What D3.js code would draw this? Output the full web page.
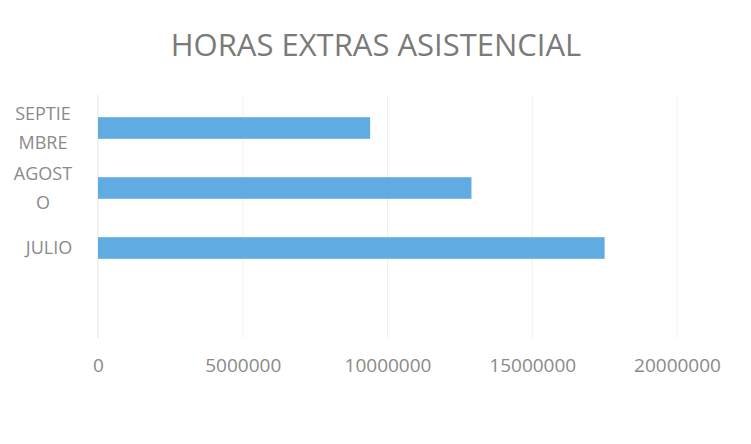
<!DOCTYPE html>
<html>
<head>
<meta charset="utf-8">
<script src="https://cdn.jsdelivr.net/npm/d3@7"></script>
<style>
  body { margin: 0; background: #fff; }
  text { font-family: "Open Sans", "Noto Sans", sans-serif; fill: #8a8a8a; }
</style>
</head>
<body>
<div id="chart"></div>
<script>
const categories = ["SEPTIEMBRE", "AGOSTO", "JULIO"];
const labelLines = [["SEPTIE", "MBRE"], ["AGOST", "O"], ["JULIO"]];
const values = [9400000, 12900000, 17500000];
const ticks = [0, 5000000, 10000000, 15000000, 20000000];

function draw() {
    const width = 751, height = 444;
    const plotTop = 95, plotBottom = 338;

    const svg = d3.select("#chart").append("svg")
        .attr("width", width)
        .attr("height", height);

    const x = d3.scaleLinear().domain([0, 20000000]).range([98, 677]);
    const y = d3.scaleBand().domain(categories).range([98, 278]).paddingInner(0.64).paddingOuter(0.32);

    // title
    svg.append("text")
        .attr("x", 376)
        .attr("y", 56)
        .attr("text-anchor", "middle")
        .style("font-size", "31px")
        .style("fill", "#7a7a7a")
        .text("HORAS EXTRAS ASISTENCIAL");

    // gridlines
    svg.append("g").selectAll("line")
        .data(ticks)
        .enter().append("line")
        .attr("x1", d => x(d)).attr("x2", d => x(d))
        .attr("y1", plotTop).attr("y2", plotBottom)
        .attr("stroke", d => d === 0 ? "#e4e4e4" : "#f0f0f0")
        .attr("stroke-width", 1);

    // bars
    svg.append("g").selectAll("rect")
        .data(values)
        .enter().append("rect")
        .attr("x", x(0))
        .attr("y", (d, i) => y(categories[i]))
        .attr("width", d => x(d) - x(0))
        .attr("height", y.bandwidth())
        .attr("fill", "#60abe2");

    // category labels
    const lineH = 29;
    svg.append("g").selectAll("text")
        .data(categories)
        .enter().append("text")
        .attr("text-anchor", "middle")
        .style("font-size", "18px")
        .each(function(d, i) {
            const lines = labelLines[i];
            const cy = y(d) + y.bandwidth() / 2;
            const start = cy - (lines.length - 1) * lineH / 2;
            d3.select(this).selectAll("tspan")
                .data(lines)
                .enter().append("tspan")
                .attr("x", lines.length === 1 ? 49 : 43)
                .attr("y", (l, j) => start + j * lineH)
                .attr("dy", "0.35em")
                .text(l => l);
        });

    // x axis
    const axis = svg.append("g")
        .attr("transform", `translate(0,${plotBottom})`)
        .call(d3.axisBottom(x).tickValues(ticks).tickSize(0).tickPadding(21).tickFormat(d3.format("d")));
    axis.select(".domain").remove();
    axis.selectAll("text")
        .style("font-size", "19px")
        .style("font-family", "'Open Sans', 'Noto Sans', sans-serif")
        .attr("fill", "#8a8a8a");
}
draw();
</script>
</body>
</html>
